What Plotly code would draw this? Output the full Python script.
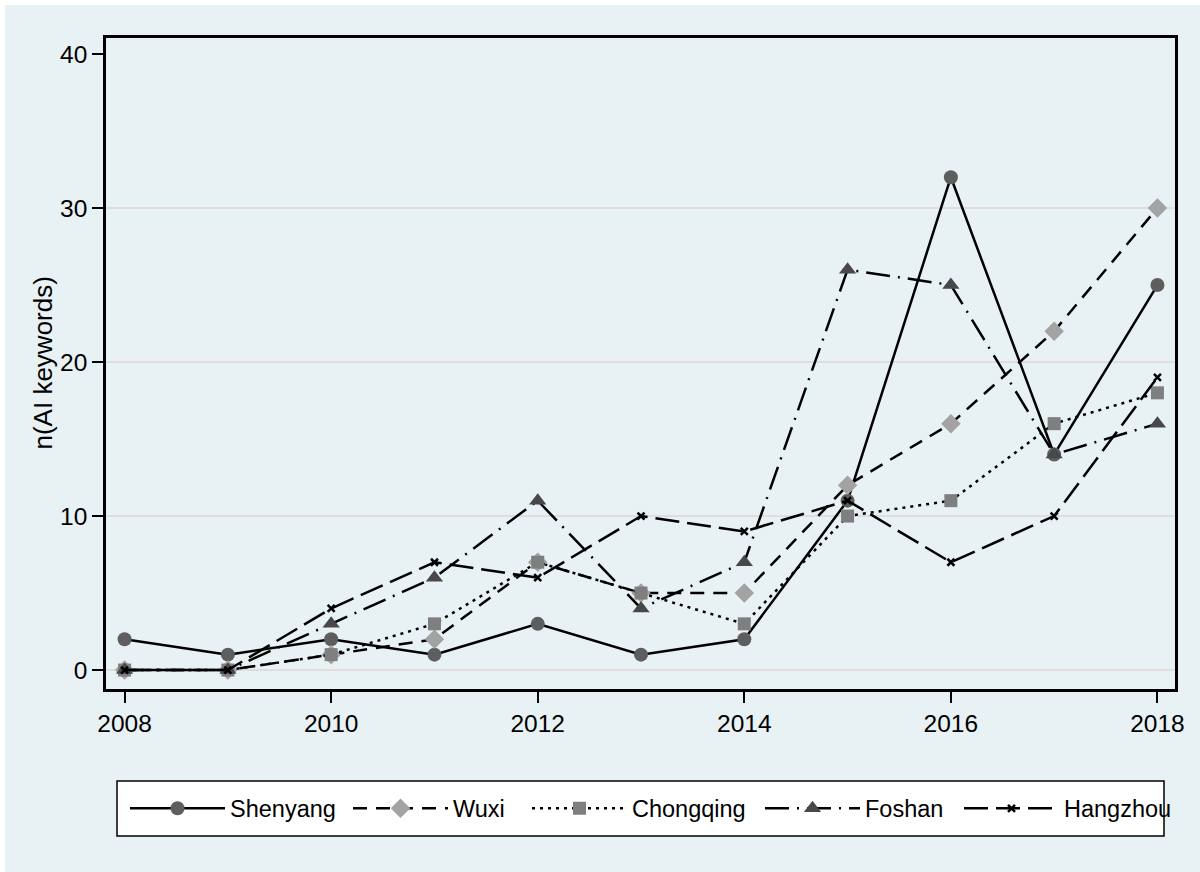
import plotly.graph_objects as go

# Yearly counts of AI-related keywords per city
years = [2008, 2009, 2010, 2011, 2012, 2013, 2014, 2015, 2016, 2017, 2018]
shenyang = [2, 1, 2, 1, 3, 1, 2, 11, 32, 14, 25]
wuxi = [0, 0, 1, 2, 7, 5, 5, 12, 16, 22, 30]
chongqing = [0, 0, 1, 3, 7, 5, 3, 10, 11, 16, 18]
foshan = [0, 0, 3, 6, 11, 4, 7, 26, 25, 14, 16]
hangzhou = [0, 0, 4, 7, 6, 10, 9, 11, 7, 10, 19]

x_ticks = [2008, 2010, 2012, 2014, 2016, 2018]
y_ticks = [0, 10, 20, 30, 40]
grid_vals = [0, 10, 20, 30]

BG = "#E8F1F4"
FONT = "Liberation Sans, Arial, Helvetica, sans-serif"

W, H = 1200, 872
ML, MR, MT, MB = 106, 25, 38, 183
PW, PH = W - ML - MR, H - MT - MB


def px_x(p):
    """canvas pixel column -> paper x"""
    return (p - ML) / PW


def px_y(p):
    """canvas pixel row -> paper y"""
    return (H - MB - p) / PH


# name, values, dash, marker symbol, marker size, marker colour, legend left edge (px)
series = [
    ("Shenyang", shenyang, "solid", "circle", 14, "#5e5e5e", 125),
    ("Wuxi", wuxi, "14px,9px", "diamond", 15, "#a3a3a3", 348),
    ("Chongqing", chongqing, "3px,5px", "square", 13, "#7f7f7f", 527),
    ("Foshan", foshan, "24px,8px,2px,8px", "triangle-up", 15, "#484848", 760),
    ("Hangzhou", hangzhou, "24px,8px", "x-thin", 7, "#000000", 959),
]

fig = go.Figure()
legend_cfg = {}
for i, (name, vals, dash, sym, size, col, lx) in enumerate(series):
    lid = "legend" if i == 0 else f"legend{i + 1}"
    is_x = sym == "x-thin"
    fig.add_trace(go.Scatter(
        x=years, y=vals, name=name, mode="lines+markers", legend=lid,
        line=dict(color="black", width=2.5, dash=dash),
        marker=dict(symbol=sym, size=size, color=col,
                    line=dict(color="black" if is_x else col,
                              width=2.5 if is_x else 0)),
    ))
    legend_cfg[lid] = dict(
        orientation="h", x=px_x(lx), xanchor="left",
        y=px_y(808.5), yanchor="middle",
        bgcolor="rgba(0,0,0,0)", borderwidth=0,
        font=dict(size=23.5), itemwidth=95,
    )

shapes = []
for g in grid_vals:
    shapes.append(dict(type="line", xref="paper", x0=0, x1=1, yref="y", y0=g, y1=g,
                       line=dict(color="#E2DCDC", width=2), layer="below"))
# thin white frame along the top and left edges of the canvas
shapes.append(dict(type="rect", xref="paper", yref="paper",
                   x0=px_x(0), x1=px_x(W), y0=px_y(5), y1=px_y(0),
                   line=dict(width=0), fillcolor="white", layer="below"))
shapes.append(dict(type="rect", xref="paper", yref="paper",
                   x0=px_x(0), x1=px_x(5), y0=px_y(H), y1=px_y(0),
                   line=dict(width=0), fillcolor="white", layer="below"))
# legend box
shapes.append(dict(type="rect", xref="paper", yref="paper",
                   x0=px_x(117), x1=px_x(1164), y0=px_y(836), y1=px_y(781),
                   line=dict(color="black", width=1.5), fillcolor="white", layer="above"))

fig.update_layout(
    width=W, height=H,
    margin=dict(l=ML, r=MR, t=MT, b=MB, pad=0, autoexpand=False),
    paper_bgcolor=BG, plot_bgcolor=BG,
    font=dict(family=FONT, size=24, color="black"),
    shapes=shapes,
    xaxis=dict(range=[2007.82, 2018.17], tickvals=x_ticks, ticks="outside",
               ticklen=11, tickwidth=2, tickcolor="black",
               showline=True, linecolor="black", linewidth=2.5, mirror=True,
               showgrid=False, zeroline=False,
               tickfont=dict(size=24.5)),
    yaxis=dict(range=[-1.23, 41.04], tickvals=y_ticks, ticks="outside",
               ticklen=11, tickwidth=2, tickcolor="black",
               showline=True, linecolor="black", linewidth=2.5, mirror=True,
               showgrid=False, zeroline=False,
               tickfont=dict(size=24.5), ticklabelstandoff=0),
    annotations=[dict(text="n(AI keywords)", xref="paper", yref="paper",
                      x=0, y=0.5, xshift=42 - ML, xanchor="center", yanchor="middle",
                      textangle=-90, showarrow=False, font=dict(size=26))],
    showlegend=True,
    **legend_cfg,
)

fig.write_html("out.html")
